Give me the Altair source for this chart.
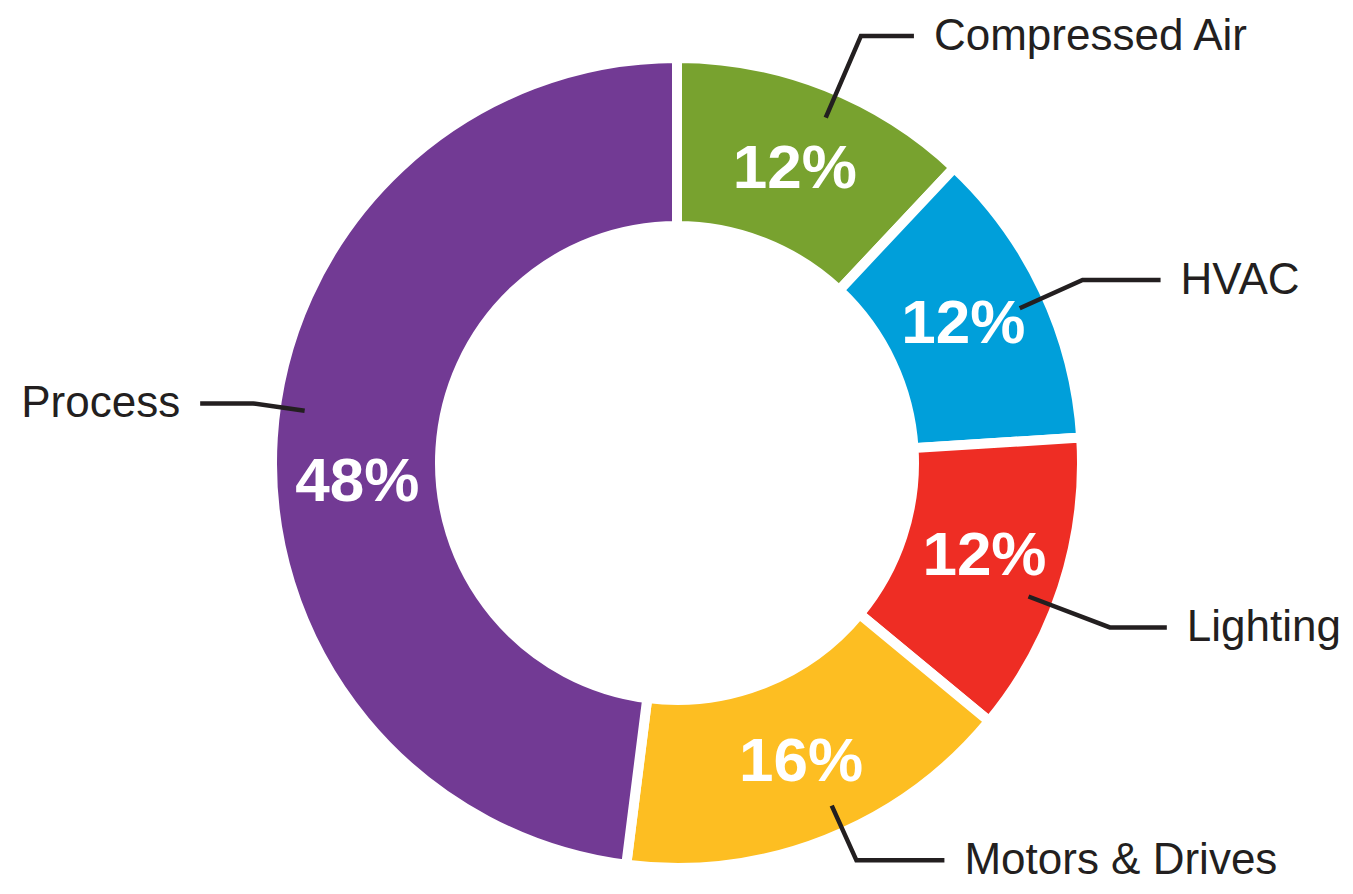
import math
import altair as alt
import pandas as pd

# ---- data ----
categories = ["Compressed Air", "HVAC", "Lighting", "Motors & Drives", "Process"]
shares = [12, 12, 12, 16, 48]
pct_labels = ["12%", "12%", "12%", "16%", "48%"]
colors = ["#78A22F", "#009FDA", "#EE2D24", "#FDBE22", "#723A94"]

# ---- annotation layout (styling, not data) ----
LABEL_NUDGE_DEG = {"Compressed Air": 0, "HVAC": -1.3, "Lighting": -1.9,
                   "Motors & Drives": -1.2, "Process": -6.3}
LEADER_NUDGE_DEG = {"Compressed Air": 1.7, "HVAC": 0.9, "Lighting": 2.8,
                    "Motors & Drives": -2.7, "Process": 4.4}
LEADER_ELBOW_R = {"Compressed Air": 465, "HVAC": 445, "Lighting": 463,
                  "Motors & Drives": 436, "Process": 428}
LEADER_ARM = {"Compressed Air": 53, "HVAC": 78, "Lighting": 57,
              "Motors & Drives": 88, "Process": 53}


def case(d):
    expr = "0"
    for k, v in reversed(list(d.items())):
        expr = f"(datum.category === '{k}' ? {v} : {expr})"
    return expr


df = pd.DataFrame({"category": categories, "share": shares,
                   "label": pct_labels, "idx": list(range(len(categories)))})

INK = "#231F20"
FONT = "Liberation Sans"

xs = alt.Scale(domain=[-669, 668], nice=False, zero=False)
ys = alt.Scale(domain=[-423, 455], nice=False, zero=False)
ts = alt.Scale(domain=[0, 100], range=[0, 2 * math.pi])

base = (
    alt.Chart(df)
    .transform_window(cum="sum(share)", sort=[alt.SortField("idx", order="ascending")],
                      frame=[None, 0])
    .transform_calculate(start="datum.cum - datum.share")
    .transform_calculate(mid="datum.cum - datum.share / 2")
    .transform_calculate(cx="0")
    .transform_calculate(cy="0")
)

cx = alt.X("cx:Q", scale=xs, axis=None, stack=None)
cy = alt.Y("cy:Q", scale=ys, axis=None, stack=None)

arcs = base.mark_arc(outerRadius=405, innerRadius=237, stroke="white",
                     strokeWidth=10).encode(
    x=cx, y=cy,
    theta=alt.Theta("start:Q", scale=ts, stack=None),
    theta2="cum:Q",
    color=alt.Color("category:N", scale=alt.Scale(domain=categories, range=colors),
                    legend=None),
)

pcts = (
    base.transform_calculate(lt=f"datum.mid + {case(LABEL_NUDGE_DEG)} / 3.6")
    .mark_text(radius=320, font=FONT, fontSize=62, fontWeight="bold",
               color="white", align="center", baseline="middle", dy=4)
    .encode(x=cx, y=cy, theta=alt.Theta("lt:Q", scale=ts, stack=None),
            text="label:N")
)

lead_base = (
    base.transform_calculate(a=f"(datum.mid + {case(LEADER_NUDGE_DEG)} / 3.6) / 100 * 2 * PI")
    .transform_calculate(er=case(LEADER_ELBOW_R))
    .transform_calculate(arm=case(LEADER_ARM))
    .transform_calculate(dir="sin(datum.a) >= 0 ? 1 : -1")
)

lines = (
    lead_base.transform_calculate(steps="[0, 1, 2]")
    .transform_flatten(["steps"])
    .transform_calculate(rr="datum.steps == 0 ? 376 : datum.er")
    .transform_calculate(px="datum.rr * sin(datum.a) + (datum.steps == 2 ? datum.dir * datum.arm : 0)")
    .transform_calculate(py="datum.rr * cos(datum.a)")
    .mark_line(color=INK, strokeWidth=4.5, strokeCap="butt", strokeJoin="miter")
    .encode(x=alt.X("px:Q", scale=xs, axis=None),
            y=alt.Y("py:Q", scale=ys, axis=None),
            detail="category:N", order="steps:Q")
)

callout_base = (
    lead_base.transform_calculate(tx="datum.er * sin(datum.a) + datum.dir * (datum.arm + 20)")
    .transform_calculate(ty="datum.er * cos(datum.a)")
)

right_txt = (
    callout_base.transform_filter("datum.dir > 0")
    .mark_text(font=FONT, fontSize=44, color=INK, align="left", baseline="middle", dy=1)
    .encode(x=alt.X("tx:Q", scale=xs, axis=None), y=alt.Y("ty:Q", scale=ys, axis=None),
            text="category:N")
)
left_txt = (
    callout_base.transform_filter("datum.dir < 0")
    .mark_text(font=FONT, fontSize=44, color=INK, align="right", baseline="middle", dy=1)
    .encode(x=alt.X("tx:Q", scale=xs, axis=None), y=alt.Y("ty:Q", scale=ys, axis=None),
            text="category:N")
)

chart = (
    alt.layer(arcs, lines, pcts, right_txt, left_txt)
    .properties(width=1337, height=878, padding=0,
                autosize=alt.AutoSizeParams(type="none"))
    .configure_view(stroke=None)
)

chart.save("out.html", embed_options={"renderer": "svg", "actions": False})
